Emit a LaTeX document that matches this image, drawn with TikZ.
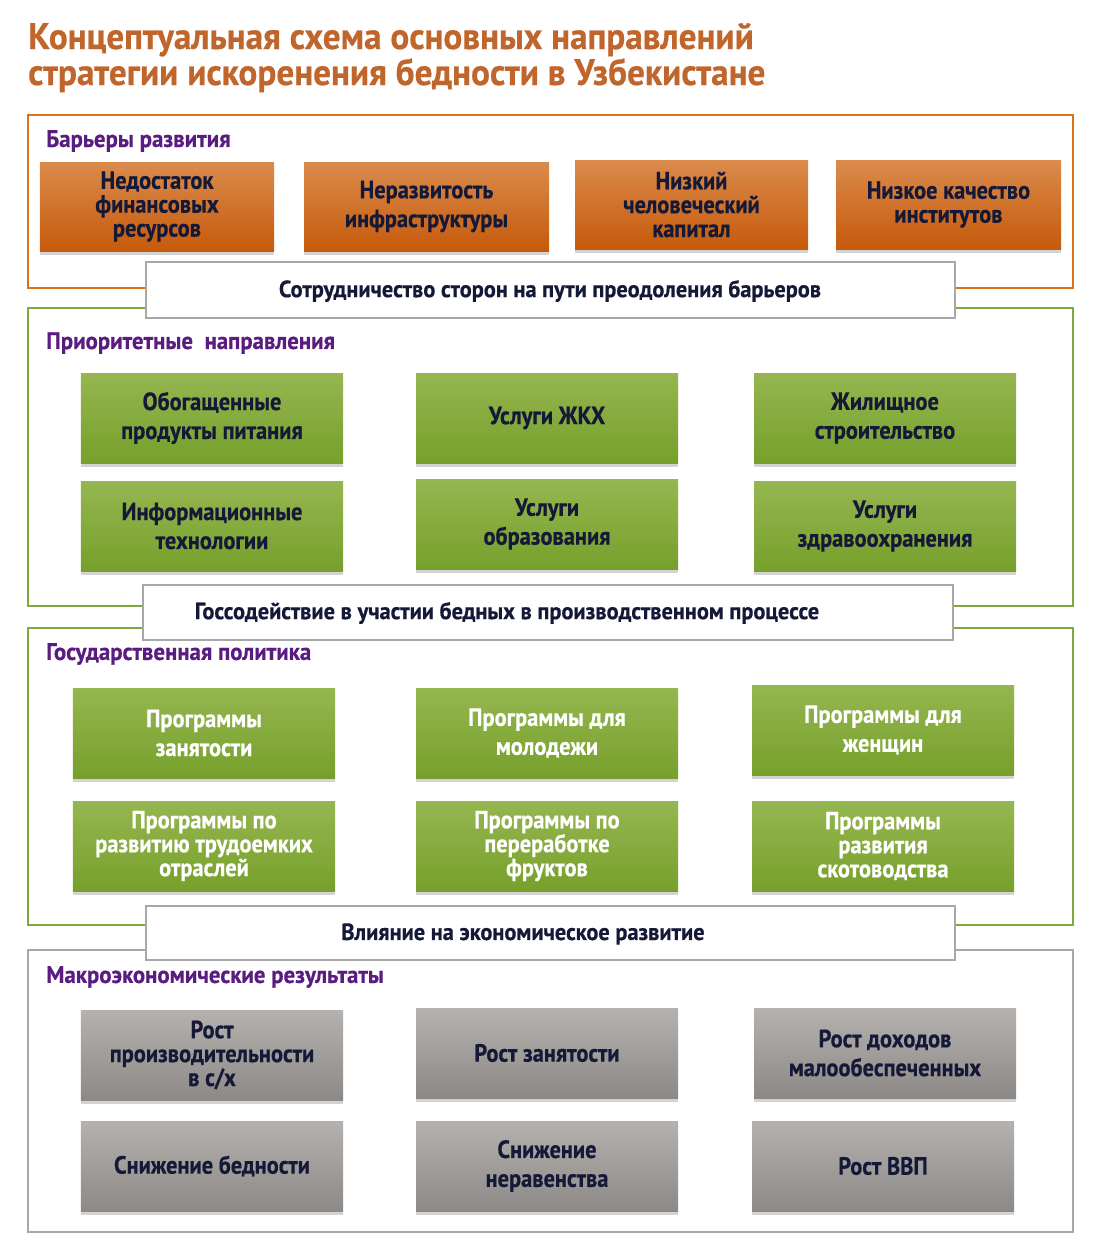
\documentclass[tikz,border=0pt]{standalone}
\usepackage{fontspec}
\setmainfont{PT Sans}[BoldFont={PT Sans Bold}, BoldFeatures={FakeStretch=0.9}, FakeStretch=0.9]
\newfontfamily\boxfont{PT Sans Bold}[FakeStretch=0.9, FakeBold=0.5]
\newfontfamily\widefont{PT Sans Bold}[FakeStretch=0.955, FakeBold=0.5]
\usetikzlibrary{shadows}
\definecolor{titleor}{HTML}{C0652B}
\definecolor{frameor}{HTML}{D9731A}
\definecolor{framegr}{HTML}{80A73C}
\definecolor{framegy}{HTML}{A8A8A8}
\definecolor{purp}{HTML}{5A1C80}
\definecolor{navy}{HTML}{141938}
\definecolor{ortop}{HTML}{DA8B4C}
\definecolor{orbot}{HTML}{C65A0B}
\definecolor{grtop}{HTML}{95B650}
\definecolor{grbot}{HTML}{76A02B}
\definecolor{gytop}{HTML}{B5B1AE}
\definecolor{gybot}{HTML}{8D8987}
\tikzset{
  frame/.style={line width=2.5bp},
  seclabel/.style={anchor=west, inner sep=0pt, text=purp, font=\widefont\fontsize{24}{26}\selectfont},
  cbox/.style={draw=none, inner sep=2bp, align=center, text=navy,
     font=\boxfont\fontsize{25}{29}\selectfont,
     drop shadow={opacity=0.35, shadow xshift=0bp, shadow yshift=-4bp}},
  orbox/.style={cbox, top color=ortop, bottom color=orbot},
  grbox/.style={cbox, top color=grtop, bottom color=grbot},
  gybox/.style={cbox, top color=gytop, bottom color=gybot},
  banner/.style={draw=framegy, line width=2.5bp, fill=white},
  bantext/.style={inner sep=0pt, text=navy, font=\widefont\fontsize{23.5}{26}\selectfont},
  tight/.style={font=\boxfont\fontsize{25}{24}\selectfont},
  titletext/.style={anchor=base west, inner sep=0pt, text=titleor, font=\widefont\fontsize{37}{40}\selectfont},
}
\begin{document}
\begin{tikzpicture}[x=1bp,y=-1bp]
\useasboundingbox (0,0) rectangle (1100,1249);
% title
\node[titletext] (t1) at (28,49) {Концептуальная схема основных направлений};
\node[titletext] (t2) at (28,85) {стратегии искоренения бедности в Узбекистане};
% frames
\draw[frame, draw=frameor] (28,115) rectangle (1073,288);
\draw[frame, draw=framegr] (28,308) rectangle (1073,606);
\draw[frame, draw=framegr] (28,628) rectangle (1073,925);
\draw[frame, draw=framegy] (28,950) rectangle (1073,1232);
% labels
\node[seclabel] (l1) at (46,141) {Барьеры развития};
\node[seclabel] (l2) at (46,343) {Приоритетные\ \ направления};
\node[seclabel] (l3) at (46,654) {Государственная политика};
\node[seclabel] (l4) at (46,977) {Макроэкономические результаты};
% section 1
\node[orbox, tight, minimum width=234bp, minimum height=89bp] (o1) at (157,206.5) {Недостаток\\финансовых\\ресурсов};
\node[orbox, minimum width=245bp, minimum height=89bp] (o2) at (426.5,206.5) {Неразвитость\\инфраструктуры};
\node[orbox, tight, minimum width=233bp, minimum height=89bp] (o3) at (691.5,204.5) {Низкий\\человеческий\\капитал};
\node[orbox, tight, minimum width=225bp, minimum height=89bp] (o4) at (948.5,204.5) {Низкое качество\\институтов};
% section 2
\node[grbox, minimum width=262bp, minimum height=90bp] (g1) at (212,418) {Обогащенные\\продукты питания};
\node[grbox, minimum width=262bp, minimum height=90bp] (g2) at (547,418) {Услуги ЖКХ};
\node[grbox, minimum width=262bp, minimum height=90bp] (g3) at (885,418) {Жилищное\\строительство};
\node[grbox, minimum width=262bp, minimum height=90bp] (g4) at (212,526) {Информационные\\технологии};
\node[grbox, minimum width=262bp, minimum height=90bp] (g5) at (547,524) {Услуги\\образования};
\node[grbox, minimum width=262bp, minimum height=90bp] (g6) at (885,526) {Услуги\\здравоохранения};
% section 3
\node[grbox, text=white, minimum width=262bp, minimum height=90bp] (p1) at (204,733) {Программы\\занятости};
\node[grbox, text=white, minimum width=262bp, minimum height=90bp] (p2) at (547,733) {Программы для\\молодежи};
\node[grbox, text=white, minimum width=262bp, minimum height=90bp] (p3) at (883,730) {Программы для\\женщин};
\node[grbox, tight, text=white, minimum width=262bp, minimum height=90bp] (p4) at (204,846) {Программы по\\развитию трудоемких\\отраслей};
\node[grbox, tight, text=white, minimum width=262bp, minimum height=90bp] (p5) at (547,846) {Программы по\\переработке\\фруктов};
\node[grbox, tight, text=white, minimum width=262bp, minimum height=90bp] (p6) at (883,846) {Программы\\развития\\скотоводства};
% section 4
\node[gybox, tight, minimum width=262bp, minimum height=90bp] (r1) at (212,1055) {Рост\\производительности\\в с/х};
\node[gybox, minimum width=262bp, minimum height=90bp] (r2) at (547,1053) {Рост занятости};
\node[gybox, minimum width=262bp, minimum height=90bp] (r3) at (885,1053) {Рост доходов\\малообеспеченных};
\node[gybox, minimum width=262bp, minimum height=90bp] (r4) at (212,1166) {Снижение бедности};
\node[gybox, minimum width=262bp, minimum height=90bp] (r5) at (547,1166) {Снижение\\неравенства};
\node[gybox, minimum width=262bp, minimum height=90bp] (r6) at (883,1166) {Рост ВВП};
% banners
\draw[banner] (146,262) rectangle (955,318);
\node[bantext] (b1) at (550,291) {Сотрудничество сторон на пути преодоления барьеров};
\draw[banner] (143,585) rectangle (953,640);
\node[bantext] (b2) at (507,613) {Госсодействие в участии бедных в производственном процессе};
\draw[banner] (146,906) rectangle (955,960);
\node[bantext] (b3) at (523,934) {Влияние на экономическое развитие};
\end{tikzpicture}
\end{document}
